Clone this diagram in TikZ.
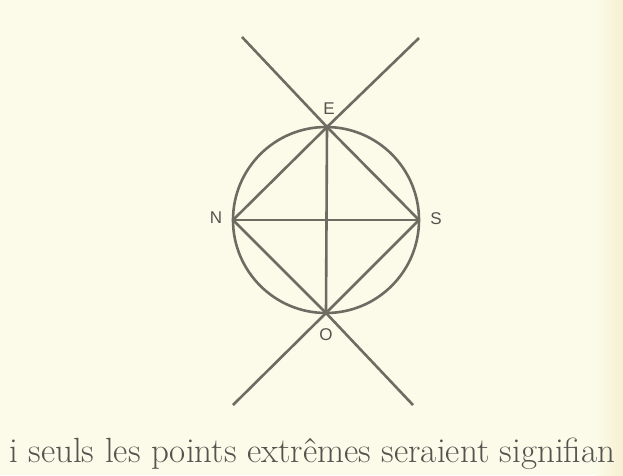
\documentclass[tikz,border=0pt]{standalone}
\usepackage{fontspec}
\newfontfamily\labelfont{Liberation Sans}
\definecolor{paper}{HTML}{FCFBEA}
\definecolor{edge}{HTML}{F6F0D2}
\definecolor{ink}{HTML}{6E6C62}
\definecolor{txt}{HTML}{55534D}
\begin{document}
\begin{tikzpicture}[x=1pt,y=-1pt,
  geo/.style={draw=ink,line width=2.6pt},
  lbl/.style={text=txt,font=\labelfont\fontsize{17}{17}\selectfont,inner sep=0pt}]
\useasboundingbox (0,0) rectangle (623,475);
\clip (0,0) rectangle (623,475);
\fill[paper] (0,0) rectangle (623,475);
\shade[left color=paper,right color=edge] (595,0) rectangle (623,475);
% points
\coordinate (C) at (326,220);
\coordinate (E) at (327,127);
\coordinate (N) at (233,220);
\coordinate (S) at (419,220);
\coordinate (O) at (326,313);
\coordinate (UL) at (242,37);
\coordinate (UR) at (419,38);
\coordinate (LL) at (233,405);
\coordinate (LR) at (413,405);
% circle
\draw[geo] (C) circle[radius=93];
% square and cross
\draw[geo] (UL) -- (E) -- (S);
\draw[geo] (UR) -- (E) -- (N);
\draw[geo] (LL) -- (O) -- (S);
\draw[geo] (LR) -- (O) -- (N);
\draw[geo] (N) -- (S);
\draw[geo] (E) -- (O);
% labels
\node[lbl] (lE) at (329,109) {E};
\node[lbl] (lN) at (216,218) {N};
\node[lbl] (lS) at (436,219) {S};
\node[lbl] (lO) at (326,335) {O};
% caption text
\node[anchor=base west,inner sep=0pt,text=txt,font=\fontsize{35}{35}\selectfont] (cap) at (9,462) {i seuls les points extrêmes seraient signifian};
\end{tikzpicture}
\end{document}
